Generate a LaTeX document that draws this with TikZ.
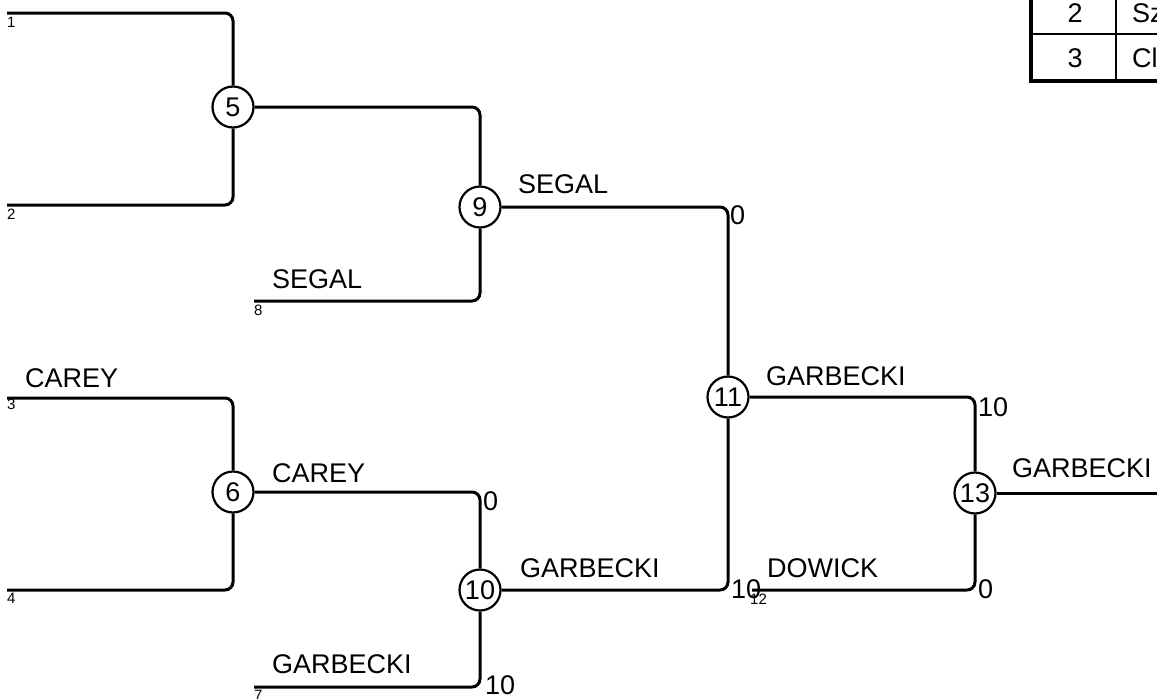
\documentclass[tikz,border=0pt]{standalone}
\usepackage{fontspec}
\setmainfont{Liberation Sans}
\begin{document}
\begin{tikzpicture}[x=1pt,y=-1pt,
  wire/.style={line width=3pt,rounded corners=8pt},
  match/.style={circle,draw,line width=2.2pt,minimum size=41pt,inner sep=0pt,font=\fontsize{27}{30}\selectfont},
  plabel/.style={anchor=base west,inner sep=0pt,font=\fontsize{27}{30}\selectfont},
  score/.style={anchor=base west,inner sep=0pt,font=\fontsize{27}{30}\selectfont},
  seed/.style={anchor=base west,inner sep=0pt,font=\fontsize{15}{17}\selectfont},
  cell/.style={anchor=base,inner sep=0pt,font=\fontsize{27}{30}\selectfont}]
\useasboundingbox (0,0) rectangle (1157,699);
\begin{scope}
\clip (0,0) rectangle (1157,699);
% slot start coordinates
\coordinate (s1) at (7,13);
\coordinate (s2) at (7,205);
\coordinate (s3) at (7,398);
\coordinate (s4) at (7,590);
\coordinate (s7) at (254,687);
\coordinate (s8) at (254,301);
\coordinate (s12) at (752,590);
\coordinate (fin) at (1165,493);
% match circles
\node[match] (m5) at (233,107) {5};
\node[match] (m9) at (480,207) {9};
\node[match] (m6) at (233,492) {6};
\node[match] (m10) at (480,590) {10};
\node[match] (m11) at (728,397) {11};
\node[match] (m13) at (975,493) {13};
% connectors
\draw[wire] (s1) -| (m5);
\draw[wire] (s2) -| (m5);
\draw[wire] (m5) -| (m9);
\draw[wire] (s8) -| (m9);
\draw[wire] (m9) -| (m11);
\draw[wire] (s3) -| (m6);
\draw[wire] (s4) -| (m6);
\draw[wire] (m6) -| (m10);
\draw[wire] (s7) -| (m10);
\draw[wire] (m10) -| (m11);
\draw[wire] (m11) -| (m13);
\draw[wire] (s12) -| (m13);
\draw[wire] (m13) -- (fin);
% seed numbers
\node[seed] (n1) at (7,27) {1};
\node[seed] (n2) at (7,219) {2};
\node[seed] (n3) at (7,409) {3};
\node[seed] (n4) at (7,603) {4};
\node[seed] (n7) at (254,700) {7};
\node[seed] (n8) at (254,315) {8};
\node[seed] (n12) at (750,604) {12};
% names
\node[plabel] (l8) at (272,288) {SEGAL};
\node[plabel] (l9) at (518,193) {SEGAL};
\node[plabel] (l3) at (25,387) {CAREY};
\node[plabel] (l6) at (272,482) {CAREY};
\node[plabel] (l7) at (272,673) {GARBECKI};
\node[plabel] (l10) at (520,577) {GARBECKI};
\node[plabel] (l11) at (766,385) {GARBECKI};
\node[plabel] (l12) at (767,577) {DOWICK};
\node[plabel] (l13) at (1012,477) {GARBECKI};
% scores
\node[score] (p9) at (730,224) {0};
\node[score] (p6) at (483,510) {0};
\node[score] (p7) at (485,694) {10};
\node[score] (p10) at (731,598) {10};
\node[score] (p11) at (978,416) {10};
\node[score] (p12) at (978,598) {0};
% table
\draw[line width=2pt] (1116,-20) -- (1116,81);
\draw[line width=2pt] (1031,34) -- (1170,34);
\draw[line width=4.5pt] (1031,-20) |- (1170,81);
\node[cell] (t2) at (1075,22) {2};
\node[cell] (t3) at (1075,67) {3};
\node[plabel] (t2n) at (1132,22) {Sz};
\node[plabel] (t3n) at (1132,67) {Cl};
\end{scope}
\end{tikzpicture}
\end{document}
